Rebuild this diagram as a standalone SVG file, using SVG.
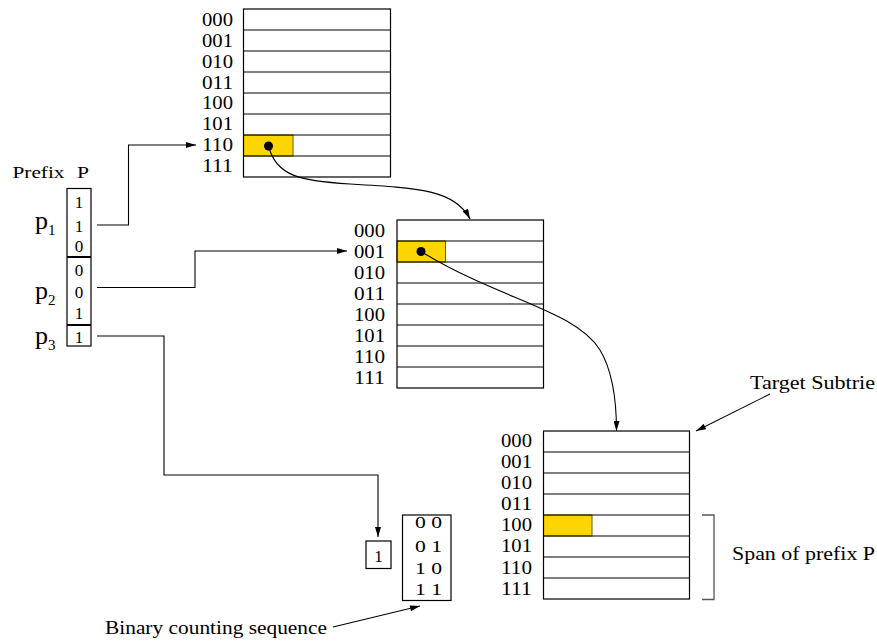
<svg xmlns="http://www.w3.org/2000/svg" width="877" height="643" viewBox="0 0 877 643">
<style>
text{font-family:"Liberation Serif","Times New Roman",serif;fill:#000}
.lbl{font-size:18px}
.dig{font-size:17px;text-anchor:middle}
.ann{font-size:19px}
.grid{fill:none;stroke:#000;stroke-width:1.2}
.hl{fill:#FFD500;stroke:#6b5e00;stroke-width:1}
.con{fill:none;stroke:#000;stroke-width:1.1}
</style>
<defs>
<marker id="ah" viewBox="0 0 10 6" refX="10" refY="3" markerWidth="11" markerHeight="6" orient="auto" markerUnits="userSpaceOnUse"><path d="M0,0 L10,3 L0,6 z" fill="#000"/></marker>
</defs>
<rect width="877" height="643" fill="#fff"/>

<g id="table1">
<rect class="hl" x="243.5" y="135" width="49.5" height="21"/>
<rect class="grid" x="243.5" y="9" width="147" height="168"/>
<path class="grid" d="M243.5,30H390.5M243.5,51H390.5M243.5,72H390.5M243.5,93H390.5M243.5,114H390.5M243.5,135H390.5M243.5,156H390.5"/>
<circle cx="268.5" cy="146" r="4.5" fill="#000"/>
<g class="lbl">
<text x="202" y="26" textLength="31" lengthAdjust="spacingAndGlyphs">000</text>
<text x="202" y="47" textLength="31" lengthAdjust="spacingAndGlyphs">001</text>
<text x="202" y="67.5" textLength="31" lengthAdjust="spacingAndGlyphs">010</text>
<text x="202" y="88.5" textLength="31" lengthAdjust="spacingAndGlyphs">011</text>
<text x="202" y="109" textLength="31" lengthAdjust="spacingAndGlyphs">100</text>
<text x="202" y="130" textLength="31" lengthAdjust="spacingAndGlyphs">101</text>
<text x="202" y="150.5" textLength="31" lengthAdjust="spacingAndGlyphs">110</text>
<text x="202" y="171.5" textLength="31" lengthAdjust="spacingAndGlyphs">111</text>
</g>
</g>

<g id="table2">
<rect class="hl" x="397" y="241" width="48.5" height="21"/>
<rect class="grid" x="397" y="220" width="146.5" height="168"/>
<path class="grid" d="M397,241H543.5M397,262H543.5M397,283H543.5M397,304H543.5M397,325H543.5M397,346H543.5M397,367H543.5"/>
<circle cx="421" cy="251.5" r="4.5" fill="#000"/>
<g class="lbl">
<text x="354" y="236.5" textLength="31" lengthAdjust="spacingAndGlyphs">000</text>
<text x="354" y="257.5" textLength="31" lengthAdjust="spacingAndGlyphs">001</text>
<text x="354" y="278.5" textLength="31" lengthAdjust="spacingAndGlyphs">010</text>
<text x="354" y="299.5" textLength="31" lengthAdjust="spacingAndGlyphs">011</text>
<text x="354" y="320.5" textLength="31" lengthAdjust="spacingAndGlyphs">100</text>
<text x="354" y="341.5" textLength="31" lengthAdjust="spacingAndGlyphs">101</text>
<text x="354" y="362.5" textLength="31" lengthAdjust="spacingAndGlyphs">110</text>
<text x="354" y="384" textLength="31" lengthAdjust="spacingAndGlyphs">111</text>
</g>
</g>

<g id="table3">
<rect class="hl" x="543.5" y="515" width="48.5" height="21"/>
<rect class="grid" x="543.5" y="431" width="146" height="168"/>
<path class="grid" d="M543.5,452H689.5M543.5,473H689.5M543.5,494H689.5M543.5,515H689.5M543.5,536H689.5M543.5,557H689.5M543.5,578H689.5"/>
<g class="lbl">
<text x="501" y="446.5" textLength="31" lengthAdjust="spacingAndGlyphs">000</text>
<text x="501" y="467.5" textLength="31" lengthAdjust="spacingAndGlyphs">001</text>
<text x="501" y="489" textLength="31" lengthAdjust="spacingAndGlyphs">010</text>
<text x="501" y="510" textLength="31" lengthAdjust="spacingAndGlyphs">011</text>
<text x="501" y="531" textLength="31" lengthAdjust="spacingAndGlyphs">100</text>
<text x="501" y="552" textLength="31" lengthAdjust="spacingAndGlyphs">101</text>
<text x="501" y="573.5" textLength="31" lengthAdjust="spacingAndGlyphs">110</text>
<text x="501" y="595" textLength="31" lengthAdjust="spacingAndGlyphs">111</text>
</g>
</g>

<g id="prefix">
<text x="12.5" y="178" font-size="17" textLength="52" lengthAdjust="spacingAndGlyphs">Prefix</text>
<text x="77" y="178" font-size="17" textLength="12" lengthAdjust="spacingAndGlyphs">P</text>
<rect class="grid" x="67" y="188.5" width="24" height="157.5"/>
<path d="M67,257H91M67,325H91" stroke="#000" stroke-width="1.8"/>
<g class="dig">
<text x="79" y="208">1</text>
<text x="79" y="231.5">1</text>
<text x="79" y="252">0</text>
<text x="79" y="275.5">0</text>
<text x="79" y="297.5">0</text>
<text x="79" y="319">1</text>
<text x="79" y="342.5">1</text>
</g>
<text x="35" y="229" font-size="26">p<tspan font-size="15" dy="6">1</tspan></text>
<text x="35" y="299" font-size="26">p<tspan font-size="15" dy="6">2</tspan></text>
<text x="35" y="343.5" font-size="26">p<tspan font-size="15" dy="6">3</tspan></text>
</g>

<g id="box1">
<rect class="grid" x="366" y="541" width="25" height="27.5"/>
<text class="dig" x="378.5" y="561.5">1</text>
</g>

<g id="counting">
<rect class="grid" x="402.5" y="515" width="48.5" height="85.5"/>
<g class="dig">
<text x="428.5" y="528" textLength="27" lengthAdjust="spacingAndGlyphs">0 0</text>
<text x="428.5" y="552" textLength="27" lengthAdjust="spacingAndGlyphs">0 1</text>
<text x="428.5" y="573.5" textLength="27" lengthAdjust="spacingAndGlyphs">1 0</text>
<text x="428.5" y="595" textLength="27" lengthAdjust="spacingAndGlyphs">1 1</text>
</g>
</g>

<g id="annotations">
<text class="ann" x="750" y="389" textLength="125" lengthAdjust="spacingAndGlyphs">Target Subtrie</text>
<text class="ann" x="732" y="559.5" textLength="143" lengthAdjust="spacingAndGlyphs">Span of prefix P</text>
<text x="105" y="634" font-size="18" textLength="222" lengthAdjust="spacingAndGlyphs">Binary counting sequence</text>
<path d="M702,515H714V599.5H702" fill="none" stroke="#555" stroke-width="1.3"/>
</g>

<g id="connectors">
<path class="con" d="M97,225H128.5V145H196" marker-end="url(#ah)"/>
<path class="con" d="M97,287.5H195V251H347" marker-end="url(#ah)"/>
<path class="con" d="M97,336H164V475H378V537" marker-end="url(#ah)"/>
<path class="con" d="M268.5,146C276,176 300,181 350,184C420,188 455,190 470,219" marker-end="url(#ah)"/>
<path class="con" d="M421,251.5C500,300 575,310 600,350C612,370 616.5,400 616.5,431" marker-end="url(#ah)"/>
<path class="con" d="M770,394L696,431" marker-end="url(#ah)"/>
<path class="con" d="M333,627L420,606" marker-end="url(#ah)"/>
</g>
</svg>
